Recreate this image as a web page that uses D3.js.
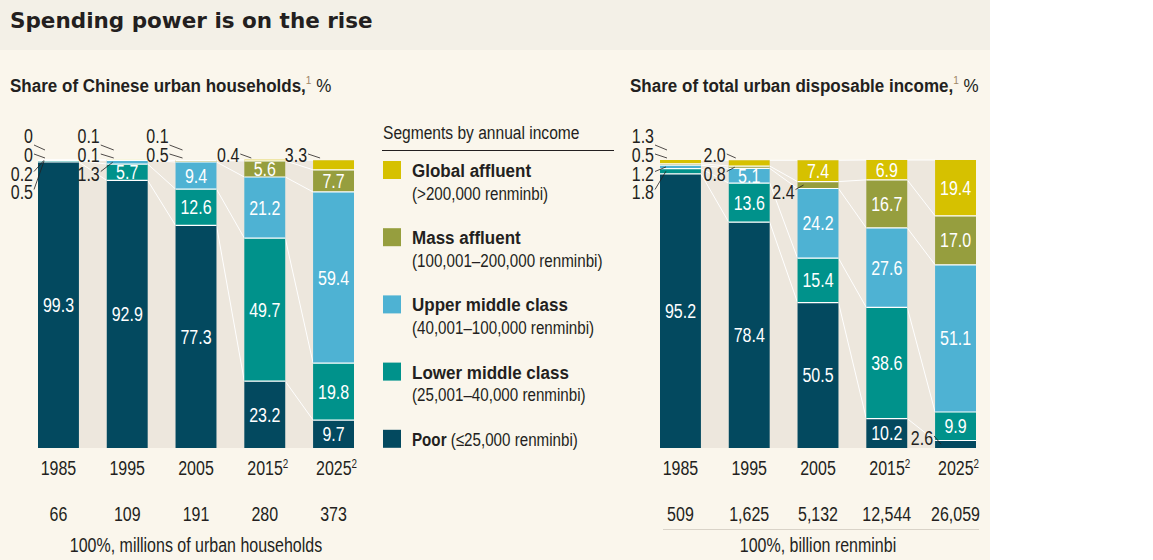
<!DOCTYPE html>
<html>
<head>
<meta charset="utf-8">
<script src="https://cdn.jsdelivr.net/npm/d3@7"></script>
<style>
  body { margin: 0; background: #fff; }
  svg text { font-family: "Liberation Sans", Arial, sans-serif; fill: #231f20; }
  .title { font-family: "DejaVu Sans", sans-serif; font-weight: bold; font-size: 21.5px; }
  .num { font-size: 19.5px; }
  .inside { fill: #fff; }
</style>
</head>
<body>
<svg id="chart" width="1153" height="560"></svg>
<script>
// Years and footnote marks
const years = ["1985", "1995", "2005", "2015", "2025"];
const yearNotes = ["", "", "", "2", "2"];

// Segments, bottom to top
const segKeys = ["poor", "lower", "upper", "mass", "global"];
const segNames = ["Poor", "Lower middle class", "Upper middle class", "Mass affluent", "Global affluent"];
const segRanges = ["(≤25,000 renminbi)", "(25,001–40,000 renminbi)", "(40,001–100,000 renminbi)",
                   "(100,001–200,000 renminbi)", "(>200,000 renminbi)"];
const segColors = ["#03495f", "#00928b", "#4eb2d3", "#969e3e", "#d6c100"];

// Share of urban households, %
const hhPoor   = [99.3, 92.9, 77.3, 23.2, 9.7];
const hhLower  = [0.5, 5.7, 12.6, 49.7, 19.8];
const hhUpper  = [0.2, 1.3, 9.4, 21.2, 59.4];
const hhMass   = [0, 0.1, 0.5, 5.6, 7.7];
const hhGlobal = [0, 0.1, 0.1, 0.4, 3.3];
const hhTotals = ["66", "109", "191", "280", "373"];

// Share of urban disposable income, %
const incPoor   = [95.2, 78.4, 50.5, 10.2, 2.6];
const incLower  = [1.8, 13.6, 15.4, 38.6, 9.9];
const incUpper  = [1.2, 5.1, 24.2, 27.6, 51.1];
const incMass   = [0.5, 0.8, 2.4, 16.7, 17.0];
const incGlobal = [1.3, 2.0, 7.4, 6.9, 19.4];
const incTotals = ["509", "1,625", "5,132", "12,544", "26,059"];

// Callout rows (label centre relative to plot top); row 4 sits near the bottom
const calloutRows = [-24, -5.5, 13.5, 31.5, 278];
// Callouts for thin segments: year index, segment, row, gap between label and bar
const hhCallouts = [
  { yi: 0, seg: "global", row: 0, gap: 5 }, { yi: 0, seg: "mass", row: 1, gap: 5 },
  { yi: 0, seg: "upper", row: 2, gap: 5 }, { yi: 0, seg: "lower", row: 3, gap: 5 },
  { yi: 1, seg: "global", row: 0, gap: 7 }, { yi: 1, seg: "mass", row: 1, gap: 7 },
  { yi: 1, seg: "upper", row: 2, gap: 7 },
  { yi: 2, seg: "global", row: 0, gap: 7 }, { yi: 2, seg: "mass", row: 1, gap: 7 },
  { yi: 3, seg: "global", row: 1, gap: 5 }, { yi: 4, seg: "global", row: 1, gap: 6 }
];
const incCallouts = [
  { yi: 0, seg: "global", row: 0, gap: 6 }, { yi: 0, seg: "mass", row: 1, gap: 6 },
  { yi: 0, seg: "upper", row: 2, gap: 6 }, { yi: 0, seg: "lower", row: 3, gap: 6 },
  { yi: 1, seg: "global", row: 1, gap: 3 }, { yi: 1, seg: "mass", row: 2, gap: 3 },
  { yi: 2, seg: "mass", row: 3, gap: 3 },
  { yi: 4, seg: "poor", row: 4, gap: 2 }
];

const SX = 0.82;   // horizontal squeeze for the condensed look
const SXB = 0.92;

const svg = d3.select("#chart");

function tr(x, y, sx) { return `translate(${x},${y}) scale(${sx},1)`; }

// Backgrounds
svg.append("rect").attr("x", 0).attr("y", 0).attr("width", 990).attr("height", 560).attr("fill", "#faf6ec");
svg.append("rect").attr("x", 0).attr("y", 0).attr("width", 990).attr("height", 50).attr("fill", "#f3f0e7");

svg.append("text").attr("class", "title").attr("x", 10).attr("y", 27.5).text("Spending power is on the rise");

function subtitle(x, label) {
  const t = svg.append("text").attr("transform", tr(x, 92, SXB)).style("font-size", "18.5px");
  t.append("tspan").style("font-weight", "bold").text(label);
  t.append("tspan").attr("dy", -8).style("font-size", "11px")
    .style("fill", "#9c8564").text("1");
  t.append("tspan").attr("dy", 8).text(" %");
}
subtitle(10, "Share of Chinese urban households,");
subtitle(630, "Share of total urban disposable income,");

const plotTop = 160, plotBottom = 448;
const y = d3.scaleLinear().domain([0, 100]).range([plotBottom, plotTop]);

function drawPanel(x0, x1, series, totals, callouts, caption, captionRule) {
  const g = svg.append("g");
  const x = d3.scaleBand().domain(years).range([x0, x1]).paddingInner(0.405).paddingOuter(0);
  const bw = x.bandwidth();

  const rows = years.map((yr, i) => {
    const r = { year: yr };
    segKeys.forEach((k, j) => r[k] = series[j][i]);
    return r;
  });
  const stacked = d3.stack().keys(segKeys)(rows);

  g.append("rect").attr("x", x0).attr("y", plotTop).attr("width", x1 - x0)
    .attr("height", plotBottom - plotTop).attr("fill", "#ede7dd");

  // Connectors between bars
  stacked.forEach(layer => {
    for (let i = 0; i < years.length - 1; i++) {
      g.append("line")
        .attr("x1", x(years[i]) + bw).attr("y1", y(layer[i][1]))
        .attr("x2", x(years[i + 1])).attr("y2", y(layer[i + 1][1]))
        .attr("stroke", "#fff").attr("stroke-width", 1);
    }
  });

  // Segments
  stacked.forEach((layer, j) => {
    g.selectAll(null).data(layer).enter().append("rect")
      .attr("x", d => x(d.data.year))
      .attr("y", d => y(d[1]))
      .attr("width", bw)
      .attr("height", d => Math.max(0, y(d[0]) - y(d[1])))
      .attr("fill", segColors[j]);
  });
  // White separators
  stacked.forEach((layer, j) => {
    if (j === segKeys.length - 1) return;
    g.selectAll(null).data(layer).enter().append("line")
      .attr("x1", d => x(d.data.year)).attr("x2", d => x(d.data.year) + bw)
      .attr("y1", d => y(d[1])).attr("y2", d => y(d[1]))
      .attr("stroke", "#fff").attr("stroke-width", 1.2);
  });

  // Inside labels
  stacked.forEach(layer => {
    g.selectAll(null).data(layer.filter(d => d[1] - d[0] >= 5)).enter().append("text")
      .attr("class", "num inside")
      .attr("transform", d => tr(x(d.data.year) + bw / 2, (y(d[0]) + y(d[1])) / 2 + 7, SX))
      .attr("text-anchor", "middle")
      .text(d => (d[1] - d[0]).toFixed(1));
  });

  // Callouts
  callouts.forEach(c => {
    const j = segKeys.indexOf(c.seg);
    const d = stacked[j][c.yi];
    const bx = x(years[c.yi]);
    const cy = plotTop + calloutRows[c.row];
    const tx = bx - c.gap;
    const v = series[j][c.yi];
    g.append("text").attr("class", "num").attr("transform", tr(tx, cy + 7, SX))
      .attr("text-anchor", "end").text(v === 0 ? "0" : v.toFixed(1));
    const segMid = (y(d[0]) + y(d[1])) / 2;
    let ly1, ly2, lx2 = bx + 7;
    if (c.row === 0) { ly1 = plotTop - 15; ly2 = plotTop - 10; }
    else if (c.row === 1) { ly1 = plotTop - 6; ly2 = plotTop - 2; }
    else { ly1 = cy - 2; ly2 = segMid; lx2 = bx + 6; }
    g.append("line").attr("x1", tx + 1).attr("y1", ly1).attr("x2", lx2).attr("y2", ly2)
      .attr("stroke", "#231f20").attr("stroke-width", 0.8);
  });

  // Year labels
  const yl = g.selectAll(null).data(years).enter().append("text")
    .attr("class", "num")
    .attr("transform", (d, i) => tr(x(d) + bw / 2 + (yearNotes[i] ? 3 : 0), 475, SX))
    .attr("text-anchor", "middle");
  yl.append("tspan").text(d => d);
  yl.append("tspan").attr("dy", -7).style("font-size", "12px").text((d, i) => yearNotes[i]);

  // Totals
  g.selectAll(null).data(totals).enter().append("text")
    .attr("class", "num")
    .attr("transform", (d, i) => tr(x(years[i]) + bw / 2, 521, SX))
    .attr("text-anchor", "middle")
    .text(d => d);

  if (captionRule) {
    g.append("line").attr("x1", x0 + 3).attr("x2", x1 + 3).attr("y1", 529.5).attr("y2", 529.5)
      .attr("stroke", "#d9d3c8").attr("stroke-width", 1);
  }
  g.append("text").attr("class", "num").attr("transform", tr((x0 + x1) / 2, 552, SX))
    .attr("text-anchor", "middle").text(caption);
}

drawPanel(38, 354, [hhPoor, hhLower, hhUpper, hhMass, hhGlobal], hhTotals, hhCallouts,
  "100%, millions of urban households", false);
drawPanel(660, 976, [incPoor, incLower, incUpper, incMass, incGlobal], incTotals, incCallouts,
  "100%, billion renminbi", true);

// Legend
const lg = svg.append("g");
lg.append("text").attr("transform", tr(383, 139, SX)).style("font-size", "19px").text("Segments by annual income");
lg.append("line").attr("x1", 382).attr("x2", 614).attr("y1", 150.5).attr("y2", 150.5)
  .attr("stroke", "#231f20").attr("stroke-width", 1);
const legendOrder = [4, 3, 2, 1, 0];
legendOrder.forEach((j, i) => {
  const top = 161 + i * 67.2;
  lg.append("rect").attr("x", 383).attr("y", top).attr("width", 18).attr("height", 18).attr("fill", segColors[j]);
  if (segKeys[j] === "poor") {
    const t = lg.append("text").attr("transform", tr(412, top + 16, SX)).style("font-size", "18.5px");
    t.append("tspan").style("font-weight", "bold").text(segNames[j]);
    t.append("tspan").text(" " + segRanges[j]);
  } else {
    lg.append("text").attr("transform", tr(412, top + 16, SXB)).style("font-size", "18.5px")
      .style("font-weight", "bold").text(segNames[j]);
    lg.append("text").attr("transform", tr(412, top + 38.5, SX)).style("font-size", "18.5px").text(segRanges[j]);
  }
});
</script>
</body>
</html>
